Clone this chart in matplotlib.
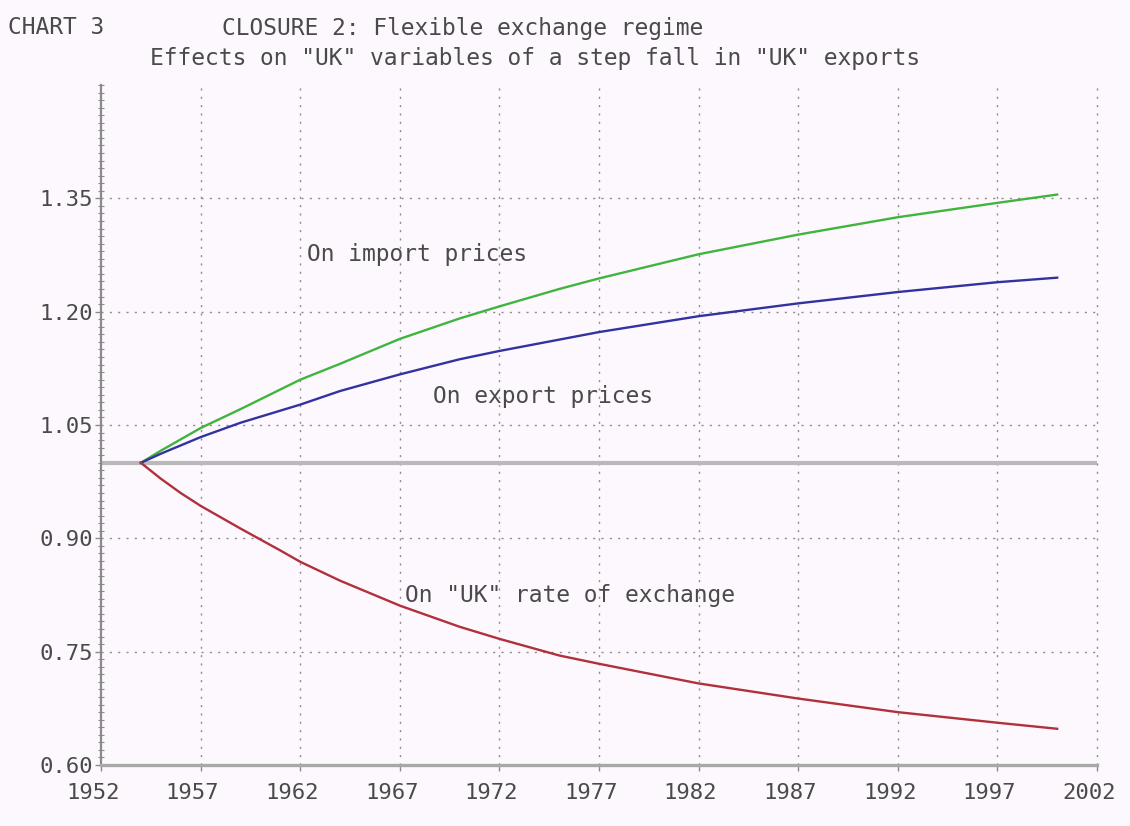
import matplotlib
matplotlib.use("Agg")
import matplotlib.pyplot as plt
import matplotlib.transforms as mtransforms
from matplotlib.ticker import MultipleLocator, FormatStrFormatter

# values
years = [1954, 1955, 1956, 1957, 1959, 1961, 1962, 1964, 1967, 1970,
         1972, 1975, 1977, 1982, 1987, 1992, 1997, 2000]
import_prices = [1.000, 1.016, 1.031, 1.046, 1.071, 1.097, 1.110, 1.131, 1.164, 1.191,
                 1.207, 1.230, 1.244, 1.276, 1.302, 1.325, 1.344, 1.355]
export_prices = [1.000, 1.012, 1.023, 1.034, 1.053, 1.069, 1.077, 1.095, 1.117, 1.137,
                 1.148, 1.163, 1.173, 1.194, 1.211, 1.226, 1.239, 1.245]
exchange_rate = [1.000, 0.979, 0.960, 0.943, 0.913, 0.884, 0.869, 0.844, 0.811, 0.783,
                 0.767, 0.745, 0.734, 0.708, 0.688, 0.670, 0.656, 0.648]

x_ticks = list(range(1952, 2003, 5))
y_ticks = [0.60, 0.75, 0.90, 1.05, 1.20, 1.35]
baseline = 1.0

bg = "#fdf8fd"
txt = "#4a4a4a"
grid_col = "#8c8c8c"

plt.rcParams["font.family"] = ["DejaVu Sans Mono"]

fig = plt.figure(figsize=(11.3, 8.26), dpi=100, facecolor=bg)
ax = fig.add_axes([0.0894, 0.0738, 0.8814, 0.8233], facecolor=bg)

ax.set_xlim(1952, 2002)
ax.set_ylim(0.60, 1.50)

# dotted grid
for xv in x_ticks[1:]:
    ax.axvline(xv, color=grid_col, lw=1.0, ls=(0, (1.5, 4.5)), zorder=1, clip_on=False)
for yv in y_ticks[1:]:
    ax.axhline(yv, color=grid_col, lw=1.0, ls=(0, (1.5, 4.5)), zorder=1)

ax.axhline(baseline, color="#b9b9b9", lw=3.0, zorder=2)

ax.plot(years, import_prices, color="#3fb53f", lw=1.7, zorder=3)
ax.plot(years, export_prices, color="#3232a0", lw=1.7, zorder=3)
ax.plot(years, exchange_rate, color="#b0303c", lw=1.7, zorder=3)

ax.text(1962.35, 1.2757, "On import prices", fontsize=16.5, color=txt, va="center", ha="left")
ax.text(1968.68, 1.0883, "On export prices", fontsize=16.5, color=txt, va="center", ha="left")
ax.text(1967.28, 0.8243, 'On "UK" rate of exchange', fontsize=16.5, color=txt, va="center", ha="left")

# axes styling
for s in ["top", "right"]:
    ax.spines[s].set_visible(False)
ax.spines["left"].set_color("#8a8a8a")
ax.spines["left"].set_linewidth(1.6)
ax.spines["bottom"].set_color("#a8a8a8")
ax.spines["bottom"].set_linewidth(2.4)

ax.set_xticks(x_ticks)
ax.set_xticklabels([str(v) for v in x_ticks])
ax.set_yticks(y_ticks)
ax.yaxis.set_major_formatter(FormatStrFormatter("%.2f"))
ax.yaxis.set_minor_locator(MultipleLocator(0.01))

ax.tick_params(axis="x", which="major", direction="out", length=4, width=1,
               color="#8a8a8a", labelsize=16, labelcolor=txt, pad=9)
ax.tick_params(axis="y", which="major", direction="out", length=4, width=1,
               color="#8a8a8a", labelsize=16, labelcolor=txt, pad=2)
ax.tick_params(axis="y", which="minor", direction="inout", length=4, width=0.8,
               color="#8a8a8a")

# x labels sit a little left of their ticks in the reference
shift = mtransforms.ScaledTranslation(-8 / 100, 0, fig.dpi_scale_trans)
for lbl in ax.get_xticklabels():
    lbl.set_transform(lbl.get_transform() + shift)

# titles
fig.text(8 / 1130, 1 - 28 / 826, "CHART 3", fontsize=16.5, color=txt, va="center", ha="left")
fig.text(222 / 1130, 1 - 28 / 826, "CLOSURE 2: Flexible exchange regime",
         fontsize=16.5, color=txt, va="center", ha="left")
fig.text(150 / 1130, 1 - 58 / 826,
         'Effects on "UK" variables of a step fall in "UK" exports',
         fontsize=16.5, color=txt, va="center", ha="left")

fig.savefig("out.png", dpi=100, facecolor=bg)
